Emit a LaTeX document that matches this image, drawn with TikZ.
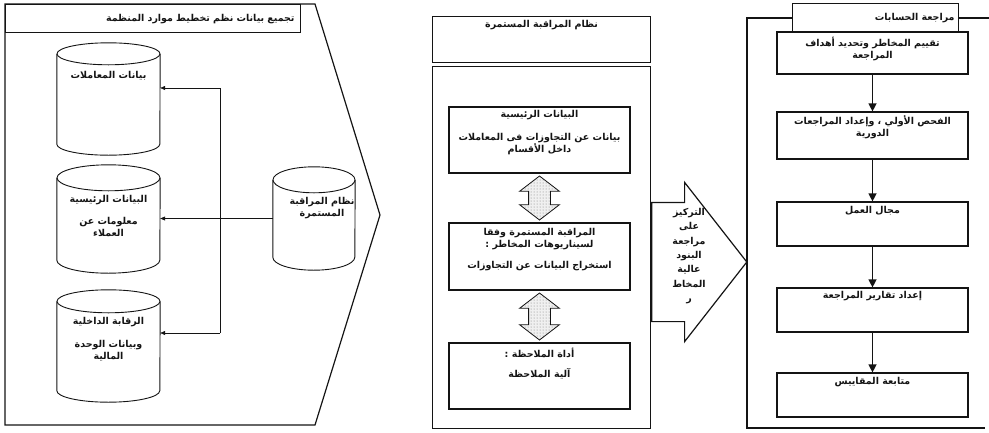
\documentclass[tikz,border=0pt]{standalone}
\usepackage{fontspec}
\usetikzlibrary{arrows.meta,calc,positioning,shapes.arrows,patterns}
\newfontfamily\arfont[Script=Arabic]{DejaVu Sans}
\TeXXeTstate=1
\newcommand{\rl}[1]{\beginR #1\endR}
\definecolor{auInk}{HTML}{141414}
\definecolor{auDots}{HTML}{7A7A7A}
\tikzset{
 audit/.style={line join=miter,text=auInk,
   font=\arfont\bfseries\fontsize{9.5}{12}\selectfont},
 panel/.style={draw=auInk,line width=1.2pt},
 drumbox/.style={rectangle,inner sep=0pt},
 drumline/.style={draw=auInk,line width=.9pt,fill=white},
 stepbox/.style={rectangle,draw=auInk,line width=1.2pt,fill=white,inner sep=0pt,minimum width=181pt},
 lbl/.style={align=center,inner sep=1pt},
 feed/.style={draw=auInk,line width=.6pt,-{Triangle[length=5pt,width=4pt]}},
 bus/.style={draw=auInk,line width=.6pt},
 down/.style={draw=auInk,line width=1.3pt,-{Triangle[length=8pt,width=8pt]}},
 swap/.style={double arrow,shape border rotate=90,draw=auInk,line width=.8pt,
   preaction={fill=gray!12},pattern=dots,pattern color=auDots,inner sep=10.5pt,
   minimum width=39pt,double arrow head extend=9pt,double arrow tip angle=105},
 focus/.style={single arrow,draw=auInk,line width=1.2pt,fill=white,inner xsep=0pt,inner ysep=59pt,
   minimum width=158pt,single arrow head extend=20pt,single arrow tip angle=104,minimum height=95pt}
}
% name, x, y, width, height, ellipse depth
\newcommand{\drum}[6]{%
 \node[drumbox,minimum width=#4pt,minimum height=#5pt] (#1) at (#2,#3) {};
 \filldraw[drumline] ($(#1.north west)+(0,#6)$) -- ($(#1.south west)-(0,#6)$)
   arc[start angle=180,end angle=0,x radius=#4/2,y radius=#6] -- ($(#1.north east)+(0,#6)$);
 \draw[drumline] ($(#1.north)+(0,#6)$) ellipse[x radius=#4/2,y radius=#6];
}
\begin{document}
\begin{tikzpicture}[audit,x=1pt,y=-1pt]
 \useasboundingbox (0,0) rectangle (989,432);
 % left panel: ERP data
 \draw[panel] (5,4) -- (315,4) -- (380,215) -- (315,425) -- (5,425) -- cycle;
 \node[stepbox,anchor=north west,minimum width=295pt,minimum height=28pt,text width=283pt,align=right] (erpT) at (5,4) {\rl{تجميع بيانات نظم تخطيط موارد المنظمة}};
 \drum{trans}{108.5}{99}{103}{112}{11}
 \drum{master}{108.5}{219}{103}{108}{13}
 \drum{ctrl}{108.5}{346}{103}{112}{11.5}
 \drum{mon}{314}{218.5}{82}{103}{13}
 \node[lbl,below=27pt of trans.north] (transL) {\rl{بيانات المعاملات}};
 \node[lbl,below=29pt of master.north] (masterL) {\rl{البيانات الرئيسية}\\[10pt]\rl{معلومات عن}\\\rl{العملاء}};
 \node[lbl,below=26pt of ctrl.north] (ctrlL) {\rl{الرقابة الداخلية}\\[11pt]\rl{وبيانات الوحدة}\\\rl{المالية}};
 \node[lbl,below=29pt of mon.north,xshift=8pt] (monL) {\rl{نظام المراقبة}\\\rl{المستمرة}};
 \coordinate (bus1) at (220,88);
 \coordinate (bus3) at (220,333);
 \draw[bus] (bus1) -- (bus3);
 \draw[bus] (mon.west) -- (mon.west -| bus1);
 \draw[feed] (bus1) -- (bus1 -| trans.east);
 \draw[feed] (mon.west -| bus1) -- (mon.west -| master.east);
 \draw[feed] (bus3) -- (bus3 -| ctrl.east);
 % middle panel: continuous monitoring
 \node[stepbox,anchor=north west,minimum width=218pt,minimum height=46pt] (midT) at (432,16) {};
 \node[lbl,below=3pt of midT.north] (midTL) {\rl{نظام المراقبة المستمرة}};
 \node[stepbox,anchor=north west,minimum width=218pt,minimum height=362pt] (mid) at (432,66) {};
 \node[stepbox,minimum height=66pt] (m1) at (539.5,140) {};
 \node[stepbox,minimum height=67pt] (m2) at (539.5,256.5) {};
 \node[stepbox,minimum height=66pt] (m3) at (539.5,376) {};
 \node[lbl,below=2.5pt of m1.north] (m1L) {\rl{البيانات الرئيسية}\\[11pt]\rl{بيانات عن التجاوزات فى المعاملات}\\\rl{داخل الأقسام}};
 \node[lbl,below=5pt of m2.north] (m2L) {\rl{المراقبة المستمرة وفقا}\\\rl{لسيناريوهات المخاطر :}\\[9pt]\rl{استخراج البيانات عن التجاوزات}};
 \node[lbl,below=4pt of m3.north] (m3L) {\rl{أداة الملاحظة :}\\[8pt]\rl{آلية الملاحظة}};
 \node[swap,minimum height=44pt] (da1) at ($(m1.south)!.5!(m2.north)$) {};
 \node[swap,minimum height=47pt] (da2) at ($(m2.south)!.5!(m3.north)$) {};
 % focus arrow
 \node[focus,anchor=tail] (push) at (mid.east |- 0,262) {};
 \node[lbl,font=\arfont\bfseries\fontsize{9.5}{14.3}\selectfont] (pushL) at (689,256) {\rl{التركيز}\\\rl{على}\\\rl{مراجعة}\\\rl{البنود}\\\rl{عالية}\\\rl{المخاط}\\\rl{ر}};
 % right panel: audit
 \draw[panel] (792,18) -- (747,18) -- (747,428) -- (985,428);
 \draw[panel] (958,18) -- (989,18);
 \node[stepbox,anchor=north west,minimum width=166pt,minimum height=29pt,text width=158pt,align=right] (audT) at (792,3) {\rl{مراجعة الحسابات}};
 \node[stepbox,minimum width=191pt,minimum height=42pt] (r1) at (872.5,53) {};
 \node[stepbox,minimum width=191pt,minimum height=47pt] (r2) at (872.5,135.5) {};
 \node[stepbox,minimum width=191pt,minimum height=44pt] (r3) at (872.5,224) {};
 \node[stepbox,minimum width=191pt,minimum height=44pt] (r4) at (872.5,310) {};
 \node[stepbox,minimum width=191pt,minimum height=44pt] (r5) at (872.5,395) {};
 \node[lbl,below=4pt of r1.north] (r1L) {\rl{تقييم المخاطر وتحديد أهداف}\\\rl{المراجعة}};
 \node[lbl,below=3pt of r2.north] (r2L) {\rl{الفحص الأولي ، وإعداد المراجعات}\\\rl{الدورية}};
 \node[lbl,below=4pt of r3.north] (r3L) {\rl{مجال العمل}};
 \node[lbl,below=3pt of r4.north] (r4L) {\rl{إعداد تقارير المراجعة}};
 \node[lbl,below=4pt of r5.north] (r5L) {\rl{متابعة المقاييس}};
 \foreach \a/\b in {r1/r2,r2/r3,r3/r4,r4/r5}{\draw[down] (\a.south) -- (\b.north);}
\end{tikzpicture}
\end{document}
